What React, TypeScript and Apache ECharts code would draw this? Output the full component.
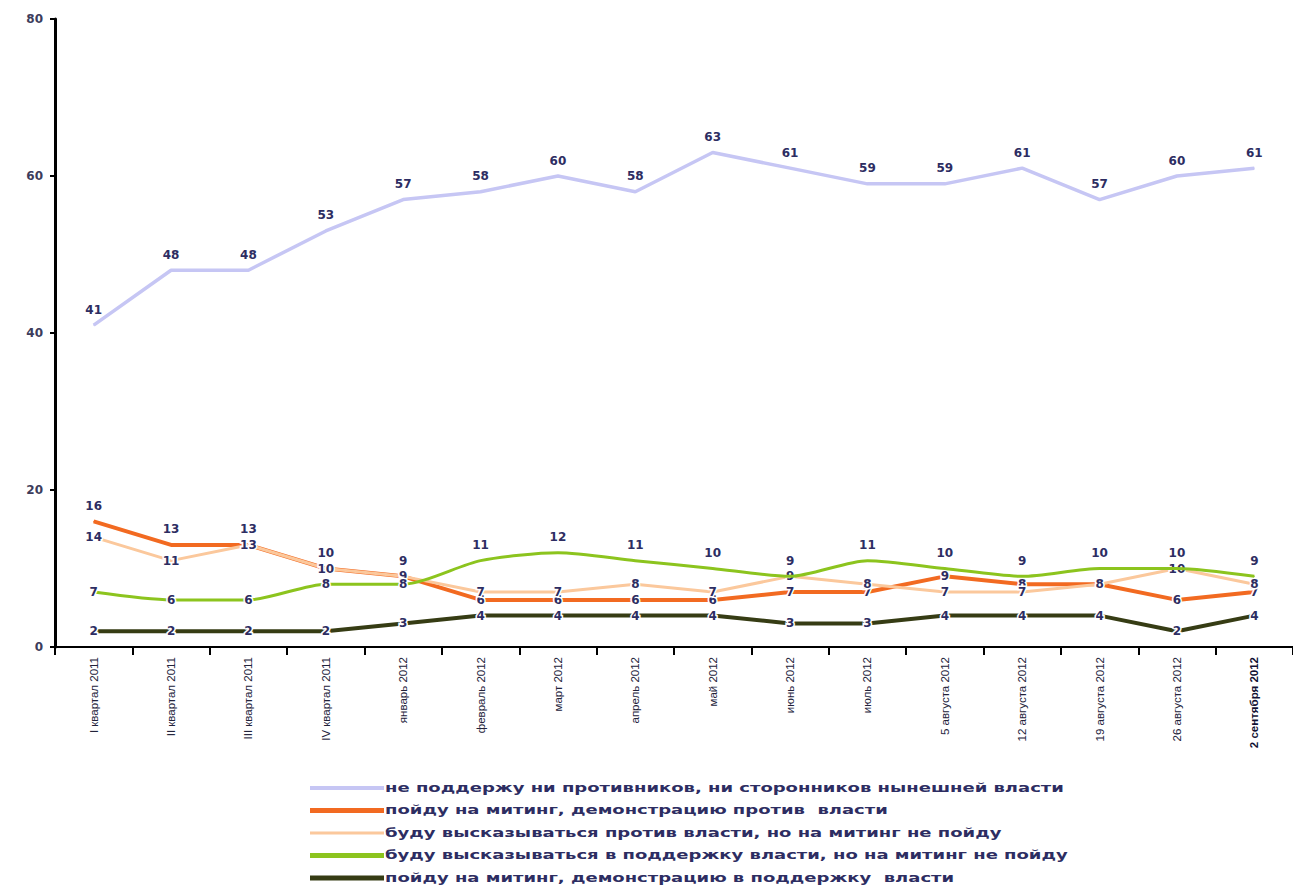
import React, { useEffect, useRef } from "react";
import * as echarts from "echarts";

const categories = [
  "I квартал 2011", "II квартал 2011", "III квартал 2011", "IV квартал 2011",
  "январь 2012", "февраль 2012", "март 2012", "апрель 2012", "май 2012",
  "июнь 2012", "июль 2012", "5 августа 2012", "12 августа 2012",
  "19 августа 2012", "26 августа 2012", "2 сентября 2012",
];

const seriesNames = [
  "не поддержу ни противников, ни сторонников нынешней власти",
  "пойду на митинг, демонстрацию против  власти",
  "буду высказываться против власти, но на митинг не пойду",
  "буду высказываться в поддержку власти, но на митинг не пойду",
  "пойду на митинг, демонстрацию в поддержку  власти",
];

const neutral = [41, 48, 48, 53, 57, 58, 60, 58, 63, 61, 59, 59, 61, 57, 60, 61];
const rallyAgainst = [16, 13, 13, 10, 9, 6, 6, 6, 6, 7, 7, 9, 8, 8, 6, 7];
const speakAgainst = [14, 11, 13, 10, 9, 7, 7, 8, 7, 9, 8, 7, 7, 8, 10, 8];
const speakFor = [7, 6, 6, 8, 8, 11, 12, 11, 10, 9, 11, 10, 9, 10, 10, 9];
const rallyFor = [2, 2, 2, 2, 3, 4, 4, 4, 4, 3, 3, 4, 4, 4, 2, 4];

const yTicks = [0, 20, 40, 60, 80];

const colors = ["#c6c6f4", "#f26a21", "#fbc89c", "#8cc41e", "#363c14"];
const widths = [3.5, 4, 3, 3, 4];

export default function App() {
  const ref = useRef<HTMLDivElement>(null);

  useEffect(() => {
    if (!ref.current) return;
    const chart = echarts.init(ref.current, null, { renderer: "svg" });

    const labelColor = "#2d2d62";
    const topLabel = {
      show: true,
      position: "top",
      distance: 9,
      color: labelColor,
      fontFamily: "DejaVu Sans",
      fontWeight: "bold",
      fontSize: 12,
    };
    const inLabel = {
      show: true,
      position: "inside",
      color: labelColor,
      fontFamily: "DejaVu Sans",
      fontWeight: "bold",
      fontSize: 12,
      textBorderColor: "#ffffff",
      textBorderWidth: 3,
    };

    const allValues = [neutral, rallyAgainst, speakAgainst, speakFor, rallyFor];
    const posRule = [
      (_i: number) => "top",
      (i: number) => (i <= 4 ? "top" : "inside"),
      (_i: number) => "inside",
      (i: number) => (i <= 4 ? "inside" : "top"),
      (_i: number) => "inside",
    ];

    const series = allValues.map((vals, s) => ({
      name: seriesNames[s],
      type: "line",
      smooth: s === 3 ? 0.25 : false,
      symbol: "circle",
      symbolSize: 1,
      showSymbol: true,
      lineStyle: { color: colors[s], width: widths[s] },
      itemStyle: { color: colors[s] },
      z: 2 + s,
      data: vals.map((v, i) => ({
        value: v,
        label: posRule[s](i) === "top" ? topLabel : inLabel,
      })),
    }));

    const legendY0 = 788;
    const legendStep = 22.5;
    const legendWidths = [4, 5, 3, 5, 5];
    const graphic = seriesNames.map((name, i) => ({
      type: "group",
      x: 310,
      y: legendY0 + i * legendStep,
      children: [
        {
          type: "rect",
          shape: { x: 0, y: -legendWidths[i] / 2, width: 74, height: legendWidths[i] },
          style: { fill: colors[i] },
        },
        {
          type: "text",
          x: 75,
          y: 0,
          scaleX: 1.5,
          style: {
            text: name,
            fill: labelColor,
            fontFamily: "DejaVu Sans",
            fontWeight: "bold",
            fontSize: 12,
            verticalAlign: "middle",
          },
        },
      ],
    }));

    chart.setOption({
      animation: false,
      backgroundColor: "#ffffff",
      grid: { left: 55, top: 19, width: 1253, bottom: 238, containLabel: false },
      xAxis: {
        type: "category",
        data: categories,
        boundaryGap: true,
        axisLine: { lineStyle: { color: "#000", width: 2 } },
        axisTick: { show: true, length: 8, lineStyle: { color: "#000", width: 2 } },
        axisLabel: {
          rotate: 90,
          margin: 10,
          fontSize: 11.5,
          fontFamily: "Liberation Sans",
          color: "#22223a",
          interval: 0,
          formatter: (v: string, idx: number) =>
            idx === categories.length - 1 ? `{b|${v}}` : v,
          rich: {
            b: { fontWeight: "bold", fontSize: 11.5, fontFamily: "Liberation Sans", color: "#111133" },
          },
        },
      },
      yAxis: {
        type: "value",
        min: yTicks[0],
        max: yTicks[yTicks.length - 1],
        interval: 20,
        splitLine: { show: false },
        axisLine: { show: true, lineStyle: { color: "#000", width: 3 } },
        axisTick: { show: true, length: 5, lineStyle: { color: "#000", width: 2 } },
        axisLabel: {
          margin: 12,
          fontSize: 12,
          fontWeight: "bold",
          fontFamily: "DejaVu Sans",
          color: "#3c3c5c",
        },
      },
      series,
      graphic,
    });

    return () => chart.dispose();
  }, []);

  return (
    <div
      ref={ref}
      style={{ position: "fixed", left: 0, top: 0, width: 1293, height: 885 }}
    />
  );
}
